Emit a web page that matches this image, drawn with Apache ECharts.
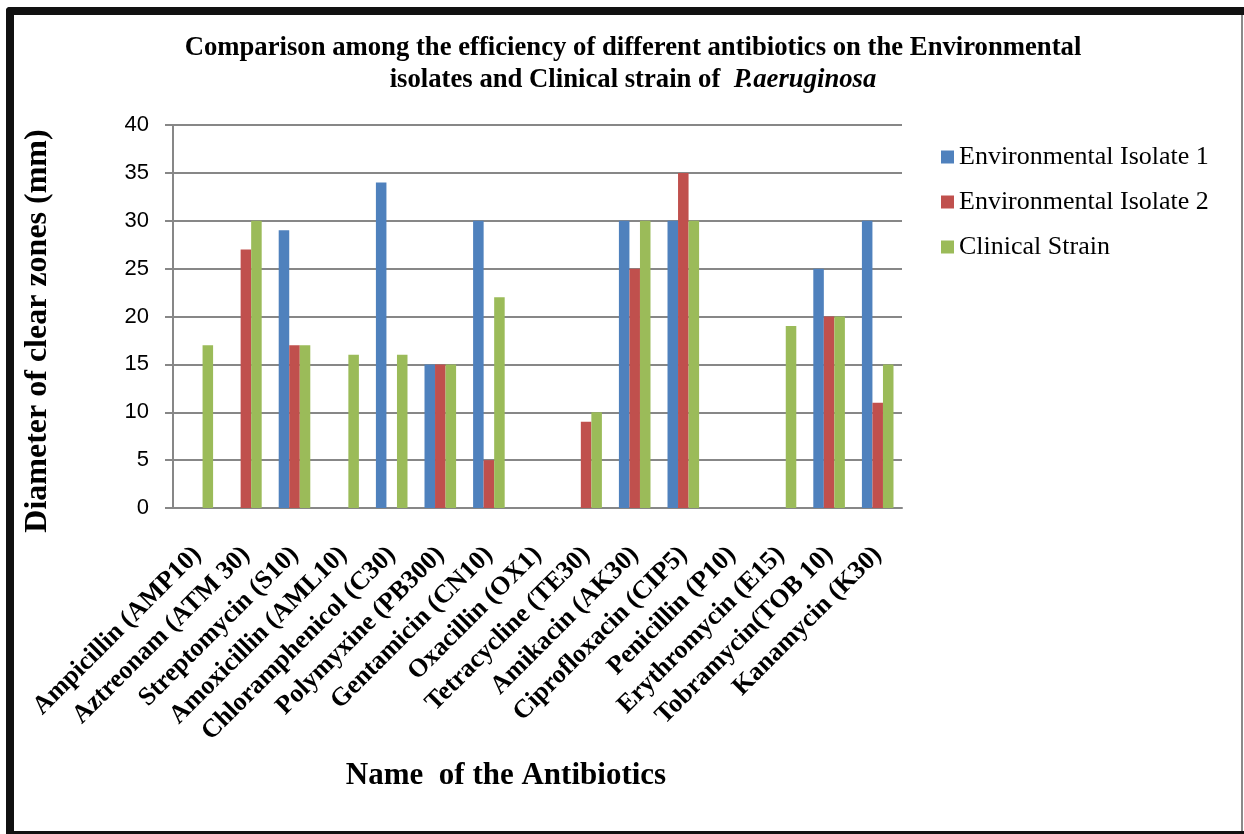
<!DOCTYPE html>
<html>
<head>
<meta charset="utf-8">
<title>Antibiotic efficiency on P. aeruginosa</title>
<script src="https://cdn.jsdelivr.net/npm/echarts@6/dist/echarts.min.js"></script>
<style>
  html, body { margin: 0; padding: 0; background: #fff; }
  #chart { width: 1244px; height: 834px; }
</style>
</head>
<body>
<div id="chart"></div>
<script>
// Antibiotics tested (disc code in brackets)
const antibiotics = [
  'Ampicillin (AMP10)', 'Aztreonam (ATM 30)', 'Streptomycin (S10)', 'Amoxicillin (AML10)',
  'Chloramphenicol (C30)', 'Polymyxine (PB300)', 'Gentamicin (CN10)', 'Oxacillin (OX1)',
  'Tetracycline (TE30)', 'Amikacin (AK30)', 'Ciprofloxacin (CIP5)', 'Penicillin (P10)',
  'Erythromycin (E15)', 'Tobramycin(TOB 10)', 'Kanamycin (K30)'
];

// Diameter of clear zones (mm)
const envIsolate1 = [0, 0, 29, 0, 34, 15, 30, 0, 0, 30, 30, 0, 0, 25, 30];
const envIsolate2 = [0, 27, 17, 0, 0, 15, 5, 0, 9, 25, 35, 0, 0, 20, 11];
const clinicalStrain = [17, 30, 17, 16, 16, 15, 22, 0, 10, 30, 30, 0, 19, 20, 15];

const seriesNames = ['Environmental Isolate 1', 'Environmental Isolate 2', 'Clinical Strain'];
const yTicks = { min: 0, max: 40, interval: 5 };

const SERIF = '"Liberation Serif", "Times New Roman", serif';
const SANS = '"Liberation Sans", Arial, sans-serif';
const GRID_GRAY = '#878787';

const chart = echarts.init(document.getElementById('chart'), null, { renderer: 'canvas' });

const barSeries = [envIsolate1, envIsolate2, clinicalStrain].map((values, i) => ({
  name: seriesNames[i],
  type: 'bar',
  data: values,
  barGap: '0%',
  barCategoryGap: '35%'
}));

chart.setOption({
  animation: false,
  backgroundColor: '#ffffff',
  color: ['#4F81BD', '#C0504D', '#9BBB59'],
  title: [
    {
      text: 'Comparison among the efficiency of different antibiotics on the Environmental',
      left: 628, top: 30, textAlign: 'center',
      textStyle: { fontFamily: SERIF, fontWeight: 'bold', fontSize: 26.7, color: '#000' }
    },
    {
      text: 'isolates and Clinical strain of  {i|P.aeruginosa}',
      left: 628, top: 62, textAlign: 'center',
      textStyle: {
        fontFamily: SERIF, fontWeight: 'bold', fontSize: 26.7, color: '#000',
        rich: { i: { fontFamily: SERIF, fontWeight: 'bold', fontStyle: 'italic', fontSize: 26.7, color: '#000' } }
      }
    }
  ],
  legend: {
    orient: 'vertical',
    left: 936, top: 139,
    itemWidth: 13, itemHeight: 13, itemGap: 19,
    icon: 'rect',
    data: seriesNames,
    textStyle: { fontFamily: SERIF, fontSize: 26, color: '#000' }
  },
  grid: { left: 173, right: 342, top: 125, bottom: 326, containLabel: false },
  xAxis: {
    type: 'category',
    data: antibiotics,
    axisLine: { show: true, lineStyle: { color: GRID_GRAY, width: 2 } },
    axisTick: { show: false },
    axisLabel: {
      interval: 0, rotate: 45, margin: 43,
      fontFamily: SERIF, fontWeight: 'bold', fontSize: 26, color: '#000'
    }
  },
  yAxis: {
    type: 'value',
    min: yTicks.min, max: yTicks.max, interval: yTicks.interval,
    axisLine: { show: true, lineStyle: { color: GRID_GRAY, width: 2 } },
    axisTick: { show: true, length: 8, lineStyle: { color: GRID_GRAY, width: 2 } },
    splitLine: { show: true, lineStyle: { color: GRID_GRAY, width: 2 } },
    axisLabel: { margin: 24, fontFamily: SANS, fontSize: 22, color: '#000' }
  },
  graphic: [
    // axis titles
    {
      type: 'text', x: 38, y: 331, rotation: Math.PI / 2,
      style: {
        text: 'Diameter of clear zones (mm)', fill: '#000',
        font: 'bold 32px ' + SERIF, align: 'center', verticalAlign: 'middle'
      }
    },
    {
      type: 'text', x: 506, y: 776,
      style: {
        text: 'Name  of the Antibiotics', fill: '#000',
        font: 'bold 31px ' + SERIF, align: 'center', verticalAlign: 'middle'
      }
    },
    // outer frame
    { type: 'rect', shape: { x: 6, y: 7, width: 1238, height: 8, r: [4, 0, 0, 0] }, style: { fill: '#111' } },
    { type: 'rect', shape: { x: 6, y: 7, width: 8, height: 827, r: [4, 0, 0, 0] }, style: { fill: '#111' } },
    { type: 'rect', shape: { x: 6, y: 831, width: 1238, height: 3 }, style: { fill: '#111' } },
    { type: 'rect', shape: { x: 1241, y: 15, width: 2, height: 816 }, style: { fill: '#8a8a8a' } }
  ],
  series: barSeries
});
</script>
</body>
</html>
